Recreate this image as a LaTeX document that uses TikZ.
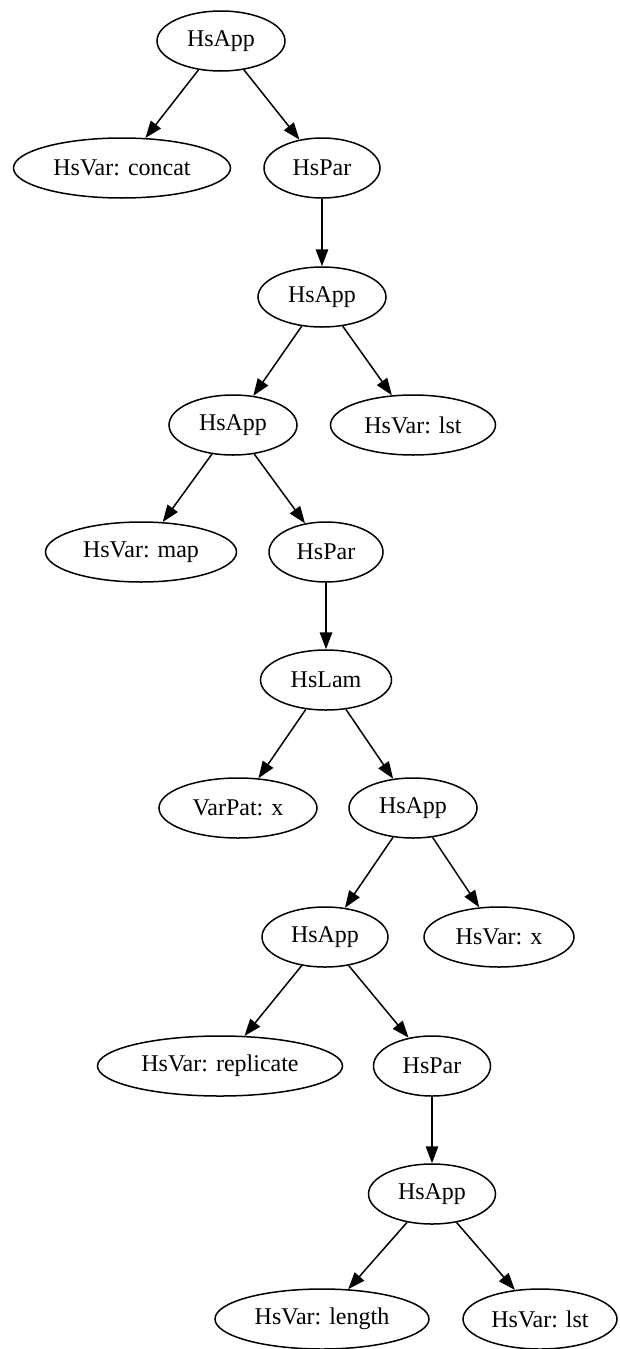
\documentclass[tikz,border=0pt]{standalone}
\usepackage{fontspec}
\setmainfont{Liberation Serif}
\usetikzlibrary{shapes.geometric,arrows.meta}
\begin{document}
\begin{tikzpicture}[x=1pt,y=-1pt,
  every node/.style={font=\fontsize{24}{28}\selectfont},
  tnode/.style={draw, ellipse, line width=1.5pt, inner sep=0pt, minimum height=60pt},
  edge/.style={draw, line width=1.5pt, -{Triangle[length=17pt,width=12.5pt]}}]
\clip (0,0) rectangle (619,1349);
\useasboundingbox (0,0) rectangle (619,1349);
\node[tnode, minimum width=128pt] (n1) at (221,41) {HsApp};
\node[tnode, minimum width=217pt] (n2) at (122,168) {HsVar: concat};
\node[tnode, minimum width=116pt] (n3) at (322,168) {HsPar};
\node[tnode, minimum width=128pt] (n4) at (322,297) {HsApp};
\node[tnode, minimum width=128pt] (n5) at (233,425) {HsApp};
\node[tnode, minimum width=165pt] (n6) at (413,425) {HsVar: lst};
\node[tnode, minimum width=191pt] (n7) at (141,552) {HsVar: map};
\node[tnode, minimum width=114pt] (n8) at (326,552) {HsPar};
\node[tnode, minimum width=131pt] (n9) at (326,680) {HsLam};
\node[tnode, minimum width=158pt] (n10) at (238,808) {VarPat: x};
\node[tnode, minimum width=128pt] (n11) at (413,808) {HsApp};
\node[tnode, minimum width=126pt] (n12) at (325,937) {HsApp};
\node[tnode, minimum width=150pt] (n13) at (499,937) {HsVar: x};
\node[tnode, minimum width=245pt] (n14) at (220,1066) {HsVar: replicate};
\node[tnode, minimum width=117pt] (n15) at (432,1066) {HsPar};
\node[tnode, minimum width=127pt] (n16) at (432,1194) {HsApp};
\node[tnode, minimum width=214pt] (n17) at (322,1319) {HsVar: length};
\node[tnode, minimum width=154pt] (n18) at (540,1319) {HsVar: lst};
\draw[edge] (n1) -- (n2);
\draw[edge] (n1) -- (n3);
\draw[edge] (n3) -- (n4);
\draw[edge] (n4) -- (n5);
\draw[edge] (n4) -- (n6);
\draw[edge] (n5) -- (n7);
\draw[edge] (n5) -- (n8);
\draw[edge] (n8) -- (n9);
\draw[edge] (n9) -- (n10);
\draw[edge] (n9) -- (n11);
\draw[edge] (n11) -- (n12);
\draw[edge] (n11) -- (n13);
\draw[edge] (n12) -- (n14);
\draw[edge] (n12) -- (n15);
\draw[edge] (n15) -- (n16);
\draw[edge] (n16) -- (n17);
\draw[edge] (n16) -- (n18);
\end{tikzpicture}
\end{document}
